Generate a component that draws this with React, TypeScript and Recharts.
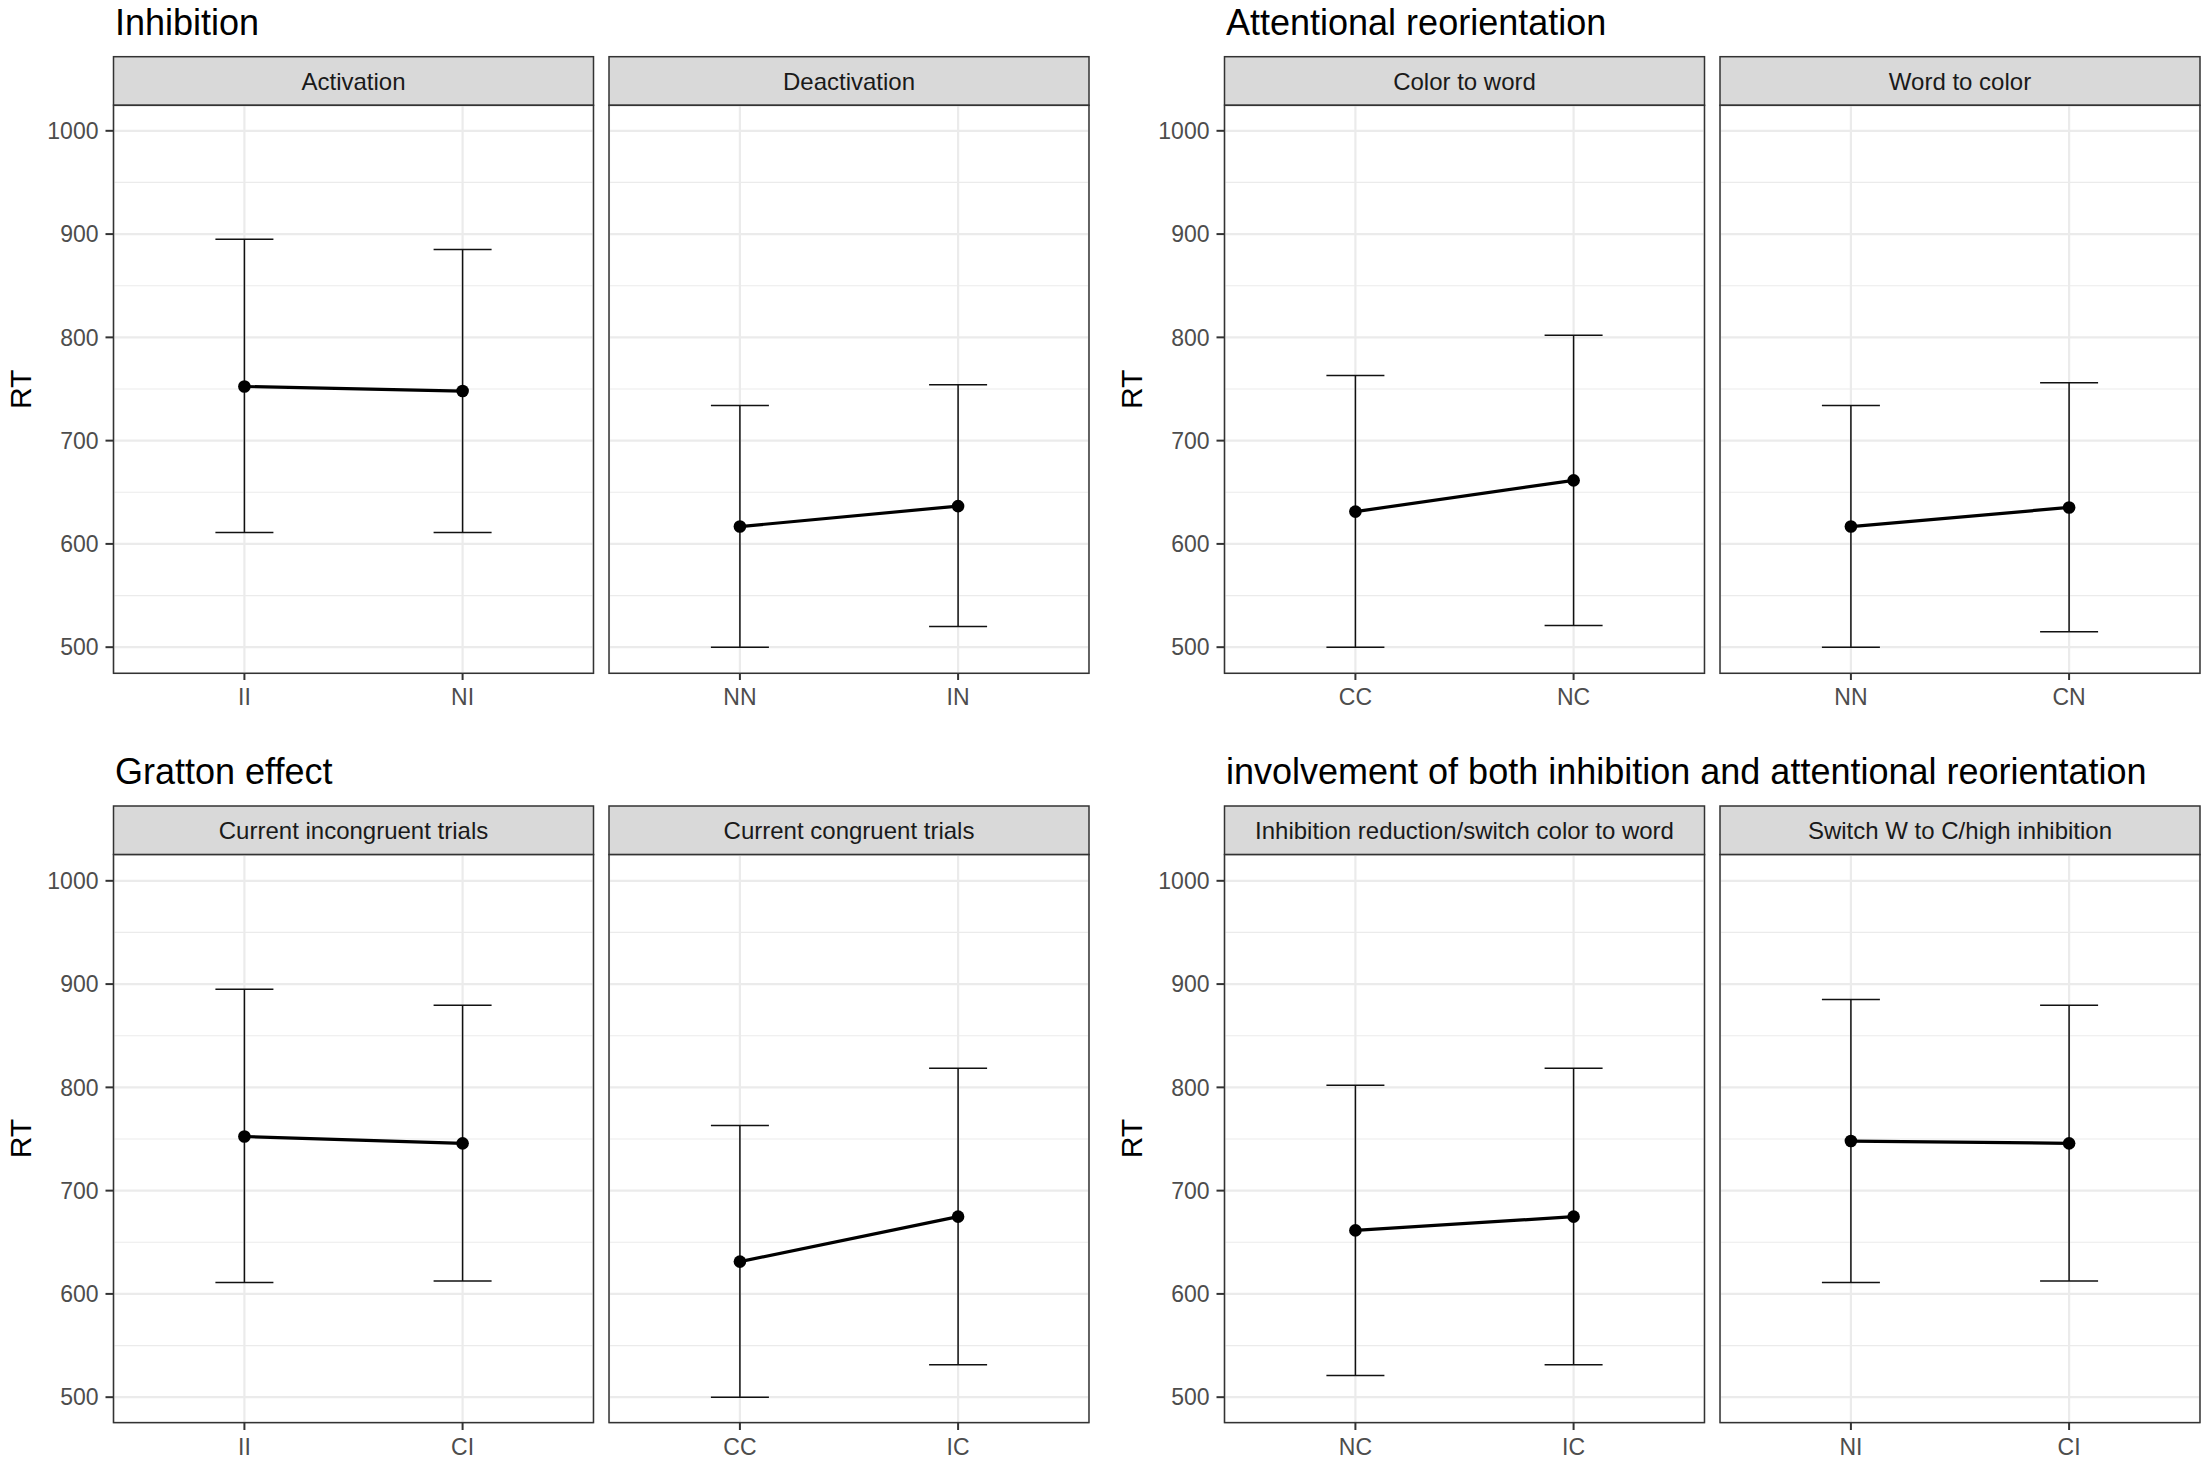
import React from "react";
import { CartesianGrid, ErrorBar, Line, LineChart, XAxis, YAxis } from "recharts";

// section titles, in reading order (top-left, top-right, bottom-left, bottom-right)
const sectionTitles = [
  "Inhibition",
  "Attentional reorientation",
  "Gratton effect",
  "involvement of both inhibition and attentional reorientation",
];

const facetLabels = [
  ["Activation", "Deactivation"],
  ["Color to word", "Word to color"],
  ["Current incongruent trials", "Current congruent trials"],
  ["Inhibition reduction/switch color to word", "Switch W to C/high inhibition"],
];

const facetConditions = [
  [["II", "NI"], ["NN", "IN"]],
  [["CC", "NC"], ["NN", "CN"]],
  [["II", "CI"], ["CC", "IC"]],
  [["NC", "IC"], ["NI", "CI"]],
];

// mean RT and interval per trial condition
const conditionLabels = ["II", "NI", "NN", "IN", "CC", "NC", "CN", "CI", "IC"];
const conditionMean = [752.4, 748, 616.8, 636.6, 631.3, 661.5, 635.3, 745.8, 674.8];
const conditionLower = [611, 611, 500, 520, 500, 521, 515, 612.5, 531.5];
const conditionUpper = [895, 885, 734, 754, 763, 802, 756, 879.5, 818.5];

const yTicks = [500, 600, 700, 800, 900, 1000];
const yMinorTicks = [550, 650, 750, 850, 950];
const yDomain = [475, 1025];

const FONT = '"Liberation Sans", Arial, Helvetica, sans-serif';
const W = 2205;
const H = 1460;
const colLeft = [113.5, 1224.5];
const panelStep = 495.5;
const panelW = 480;
const rowStripTop = [56.7, 806];
const stripH = 48.6;
const plotH = 568;
const axisW = 113.5;
const xAxisH = 50;
const titleBaseline = [34.5, 783.8];

function buildRows(conds: string[]) {
  return conds.map((c) => {
    const i = conditionLabels.indexOf(c);
    const mean = conditionMean[i];
    return { cond: c, rt: mean, err: [mean - conditionLower[i], conditionUpper[i] - mean] };
  });
}

function Panel({ conds, withAxis }: { conds: string[]; withAxis: boolean }) {
  const data = buildRows(conds);
  const pad = (panelW * 0.6) / 2.2;
  const width = panelW + (withAxis ? axisW : 0);
  const tickStyle = { fontSize: 23, fill: "#4D4D4D", fontFamily: FONT };
  return (
    <LineChart width={width} height={plotH + xAxisH} data={data} margin={{ top: 0, right: 0, bottom: 0, left: 0 }}>
      <CartesianGrid horizontalValues={yMinorTicks} vertical={false} stroke="#EBEBEB" strokeWidth={1.2} />
      <CartesianGrid stroke="#EBEBEB" strokeWidth={2.2} />
      <XAxis
        dataKey="cond"
        padding={{ left: pad, right: pad }}
        height={xAxisH}
        interval={0}
        axisLine={false}
        tickSize={7}
        tickMargin={9}
        tickLine={{ stroke: "#333333", strokeWidth: 2 }}
        tick={tickStyle}
      />
      <YAxis
        hide={!withAxis}
        width={axisW}
        domain={yDomain}
        ticks={yTicks}
        type="number"
        axisLine={false}
        tickSize={8}
        tickMargin={7}
        tickLine={{ stroke: "#333333", strokeWidth: 2 }}
        tick={tickStyle}
      />
      <Line
        dataKey="rt"
        type="linear"
        stroke="#000000"
        strokeWidth={3.2}
        dot={{ r: 6.3, fill: "#000000", stroke: "#000000", strokeWidth: 0 }}
        activeDot={false}
        isAnimationActive={false}
      >
        <ErrorBar dataKey="err" width={29} stroke="#111111" strokeWidth={1.5} direction="y" />
      </Line>
    </LineChart>
  );
}

export default function App() {
  const sections = sectionTitles.map((title, s) => {
    const row = Math.floor(s / 2);
    const col = s % 2;
    return { title, s, row, col, left: colLeft[col], stripTop: rowStripTop[row], plotTop: rowStripTop[row] + stripH };
  });

  return (
    <div
      style={{
        position: "absolute",
        left: 0,
        top: 0,
        width: W,
        height: H,
        background: "#ffffff",
        fontFamily: FONT,
        overflow: "hidden",
      }}
    >
      <svg width={W} height={H} style={{ position: "absolute", left: 0, top: 0 }}>
        {sections.map((sec) => (
          <g key={sec.s}>
            <text x={sec.left + 1.5} y={titleBaseline[sec.row]} fontSize={36} fill="#000000" fontFamily={FONT}>
              {sec.title}
            </text>
            <text
              transform={`translate(${sec.left - axisW + 30.7},${sec.plotTop + plotH / 2}) rotate(-90)`}
              textAnchor="middle"
              fontSize={30}
              fill="#000000"
              fontFamily={FONT}
            >
              RT
            </text>
            {facetLabels[sec.s].map((label, k) => (
              <g key={label}>
                <rect
                  x={sec.left + k * panelStep}
                  y={sec.stripTop}
                  width={panelW}
                  height={stripH}
                  fill="#D9D9D9"
                  stroke="#333333"
                  strokeWidth={1.5}
                />
                <text
                  x={sec.left + k * panelStep + panelW / 2}
                  y={sec.stripTop + 33.3}
                  textAnchor="middle"
                  fontSize={24}
                  fill="#1A1A1A"
                  fontFamily={FONT}
                >
                  {label}
                </text>
              </g>
            ))}
          </g>
        ))}
      </svg>

      {sections.map((sec) =>
        facetConditions[sec.s].map((conds, k) => (
          <div
            key={`${sec.s}-${k}`}
            style={{
              position: "absolute",
              left: k === 0 ? sec.left - axisW : sec.left + k * panelStep,
              top: sec.plotTop,
            }}
          >
            <Panel conds={conds} withAxis={k === 0} />
          </div>
        ))
      )}

      <svg width={W} height={H} style={{ position: "absolute", left: 0, top: 0, pointerEvents: "none" }}>
        {sections.map((sec) =>
          [0, 1].map((k) => (
            <rect
              key={`${sec.s}-${k}`}
              x={sec.left + k * panelStep}
              y={sec.plotTop}
              width={panelW}
              height={plotH}
              fill="none"
              stroke="#333333"
              strokeWidth={1.5}
            />
          ))
        )}
      </svg>
    </div>
  );
}
